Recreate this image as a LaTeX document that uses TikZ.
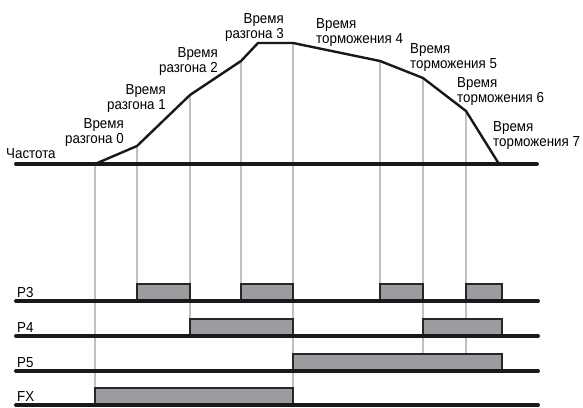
\documentclass[tikz,border=0pt]{standalone}
\usepackage{fontspec}
\setmainfont{Liberation Sans}[FakeStretch=0.92]
\usetikzlibrary{positioning}

\definecolor{gridgray}{HTML}{BFC0C2}
\definecolor{boxgray}{HTML}{9B9C9F}

\begin{document}
\begin{tikzpicture}[x=1pt,y=-1pt,
    axis/.style={line width=4pt, line cap=round, black!90},
    curve/.style={line width=2.4pt, line join=round, black!90},
    marker/.style={line width=2.8pt, gridgray},
    pulse/.style={draw=black!85, fill=boxgray, line width=2.2pt},
    accel/.style={anchor=north east, align=right, inner sep=0pt, font=\fontsize{14.5}{15}\selectfont},
    decel/.style={anchor=north west, align=left, inner sep=0pt, font=\fontsize{14.5}{15}\selectfont},
    sig/.style={anchor=north west, inner sep=0pt, font=\fontsize{14.5}{15}\selectfont}
]
\useasboundingbox (0,0) rectangle (583,407);

% Frequency profile points
\coordinate (c0) at (95,164);
\coordinate (c1) at (137,146);
\coordinate (c2) at (190,95);
\coordinate (c3) at (241,61);
\coordinate (c4) at (258,43);
\coordinate (c5) at (293,43);
\coordinate (c6) at (380,61);
\coordinate (c7) at (423,78);
\coordinate (c8) at (466,111);
\coordinate (c9) at (499,164);

% Tops of the signal pulses
\coordinate (p3top) at (0,284);
\coordinate (p4top) at (0,319);
\coordinate (p5top) at (0,354);
\coordinate (fxtop) at (0,388);

% Grey marker lines
\draw[marker] (c0) -- (c0 |- fxtop);
\draw[marker] (c1) -- (c1 |- p3top);
\draw[marker] (c2) -- (c2 |- p4top);
\draw[marker] (c3) -- (c3 |- p3top);
\draw[marker] (c5) -- (c5 |- fxtop);
\draw[marker] (c6) -- (c6 |- p3top);
\draw[marker] (c7) -- (c7 |- p5top);
\draw[marker] (c8) -- (c8 |- p5top);

% Pulses P3
\draw[pulse] (137,301) rectangle (190,284);
\draw[pulse] (241,301) rectangle (293,284);
\draw[pulse] (380,301) rectangle (423,284);
\draw[pulse] (466,301) rectangle (502,284);
% Pulses P4
\draw[pulse] (190,336) rectangle (293,319);
\draw[pulse] (423,336) rectangle (502,319);
% Pulse P5
\draw[pulse] (293,371) rectangle (502,354);
% Pulse FX
\draw[pulse] (95,405) rectangle (293,388);

% Base lines
\draw[axis] (16,164) -- (537,164);
\draw[axis] (16,301) -- (538,301);
\draw[axis] (16,336) -- (538,336);
\draw[axis] (16,371) -- (538,371);
\draw[axis] (16,405) -- (538,405);

% Frequency curve
\draw[curve] (c0) -- (c1) -- (c2) -- (c3) -- (c4) -- (c5) -- (c6) -- (c7) -- (c8) -- (c9);

% Labels
\node[sig] (freq) at (6,148) {Частота};
\node[accel] (acc0) at (124,118) {Время\\разгона 0};
\node[accel] (acc1) at (166,84) {Время\\разгона 1};
\node[accel] (acc2) at (218,47) {Время\\разгона 2};
\node[accel] (acc3) at (284,13) {Время\\разгона 3};
\node[decel] (dec4) at (316,18) {Время\\торможения 4};
\node[decel] (dec5) at (410,43) {Время\\торможения 5};
\node[decel] (dec6) at (457,77) {Время\\торможения 6};
\node[decel] (dec7) at (493,121) {Время\\торможения 7};

\node[sig] (lp3) at (17,287) {P3};
\node[sig] (lp4) at (17,322) {P4};
\node[sig] (lp5) at (17,357) {P5};
\node[sig] (lfx) at (17,391) {FX};

\end{tikzpicture}
\end{document}
